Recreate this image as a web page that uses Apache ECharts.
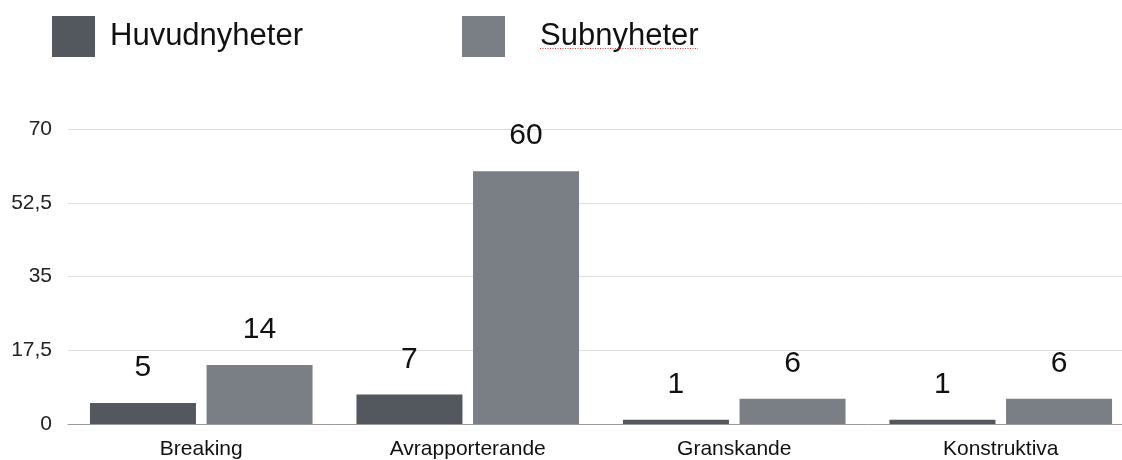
<!DOCTYPE html>
<html>
<head>
<meta charset="utf-8">
<script src="https://cdn.jsdelivr.net/npm/echarts@6/dist/echarts.min.js"></script>
<style>
html,body{margin:0;padding:0;background:#fff;overflow:hidden;width:1122px;height:460px;}
#chart{width:1134px;height:460px;}
</style>
</head>
<body>
<div id="chart"></div>
<script>
const categories = ['Breaking', 'Avrapporterande', 'Granskande', 'Konstruktiva'];
const seriesNames = ['Huvudnyheter', 'Subnyheter'];
const huvudnyheter = [5, 7, 1, 1];
const subnyheter = [14, 60, 6, 6];
const yTicks = [0, 17.5, 35, 52.5, 70];

const FONT = '"Liberation Sans", Arial, Helvetica, sans-serif';
const chart = echarts.init(document.getElementById('chart'));
chart.setOption({
  animation: false,
  textStyle: { fontFamily: FONT },
  legend: [
    {
      data: [seriesNames[0]], left: 52, top: 16, padding: 0,
      itemWidth: 43, itemHeight: 41, icon: 'rect',
      textStyle: { fontSize: 31, color: '#111', fontFamily: FONT, padding: [0, 0, 0, 10] }
    },
    {
      data: [seriesNames[1]], left: 462, top: 16, padding: 0,
      itemWidth: 43, itemHeight: 41, icon: 'rect',
      textStyle: { fontSize: 31, color: '#111', fontFamily: FONT, padding: [0, 0, 0, 30] }
    }
  ],
  graphic: [
    {
      type: 'line', z: 100,
      shape: { x1: 540, y1: 48.5, x2: 698, y2: 48.5 },
      style: { stroke: '#d83a3a', lineWidth: 1, lineDash: [1, 1.5] }
    }
  ],
  grid: { left: 68, right: 0, top: 129, bottom: 36, containLabel: false },
  xAxis: {
    type: 'category',
    data: categories,
    axisLine: { lineStyle: { color: '#9a9a9a', width: 1 } },
    axisTick: { show: false },
    axisLabel: { fontSize: 21, color: '#111', margin: 15, fontFamily: FONT }
  },
  yAxis: {
    type: 'value',
    min: yTicks[0], max: yTicks[yTicks.length - 1], interval: 17.5,
    axisLine: { show: false },
    axisTick: { show: false },
    splitLine: { lineStyle: { color: '#dedede', width: 1 } },
    axisLabel: {
      fontSize: 21, color: '#222', margin: 16, fontFamily: FONT,
      formatter: v => String(v).replace('.', ',')
    }
  },
  series: [
    {
      name: seriesNames[0], type: 'bar', data: huvudnyheter,
      barWidth: 106, barGap: '10%',
      itemStyle: { color: '#53575e' },
      label: { show: true, position: 'top', distance: 20, fontSize: 30, color: '#111', fontFamily: FONT }
    },
    {
      name: seriesNames[1], type: 'bar', data: subnyheter,
      barWidth: 106, barGap: '10%',
      itemStyle: { color: '#7a7f86' },
      label: { show: true, position: 'top', distance: 20, fontSize: 30, color: '#111', fontFamily: FONT }
    }
  ]
});
</script>
</body>
</html>
